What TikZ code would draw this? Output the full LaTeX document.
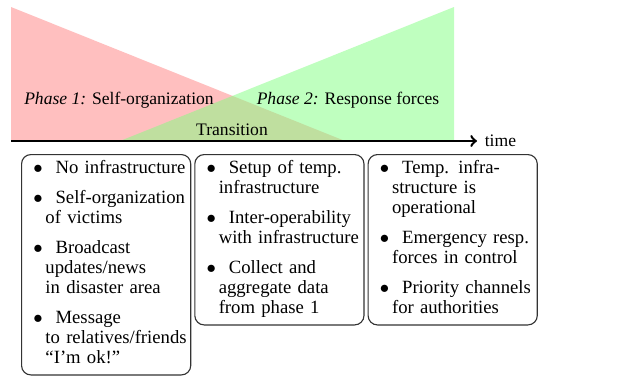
\documentclass[tikz,border=0pt]{standalone}
\usepackage{fontspec}
\setmainfont{Liberation Serif}
\usetikzlibrary{positioning}

\tikzset{
    phasebox/.style={draw=black!80, line width=0.6pt, rounded corners=5pt,
        anchor=north west, text width=90.5pt, inner xsep=0pt, inner ysep=3pt,
        font=\fontsize{10}{10.7}\selectfont},
    phaselabel/.style={inner sep=0pt, font=\fontsize{9.4}{11}\selectfont},
}
\newcommand{\boxsetup}{\raggedright\setlength{\leftskip}{12.8pt}\setlength{\parskip}{5.35pt}}
\newcommand{\bitem}[1]{\noindent\hspace*{-6.5pt}$\bullet$\hspace{6.9pt}#1\par}

\begin{document}
\begin{tikzpicture}[x=0.535pt, y=0.535pt]
    \useasboundingbox (0, 0) rectangle (629, 375);

    % draw phase triangles
    \fill[red!50, fill opacity=0.5] (11, 368) -- (11, 234) -- (345, 234) -- cycle;
    \fill[green!50, fill opacity=0.5] (454, 368) -- (454, 234) -- (120, 234) -- cycle;

    % draw phase labels
    \node[phaselabel] (phase1) at (119, 275) {\textit{Phase 1:} Self-organization};
    \node[phaselabel] (phase2) at (348, 275) {\textit{Phase 2:} Response forces};
    \node[phaselabel] (trans) at (232, 245) {Transition};

    % draw time axis
    \coordinate (t0) at (11, 234);
    \coordinate (t1) at (477, 234);
    \draw[line width=1.3pt, ->] (t0) -- (t1);
    \node[phaselabel, right=4pt of t1] (time) {time};

    % draw phase boxes
    \node[phasebox] (box1) at (21, 221) {\boxsetup
        \bitem{No infrastructure}
        \bitem{Self-organization\\ of victims}
        \bitem{Broadcast\\ updates/news\\ in disaster area}
        \bitem{Message\\ to relatives/friends\\ “I’m ok!”\strut}};
    \node[phasebox, right=1.6pt of box1.north east, anchor=north west] (box2) {\boxsetup
        \bitem{Setup of temp.\\ infrastructure}
        \bitem{Inter-operability\\ with infrastructure}
        \bitem{Collect and\\ aggregate data\\ from phase 1\strut}};
    \node[phasebox, right=1.6pt of box2.north east, anchor=north west] (box3) {\boxsetup
        \bitem{Temp. infra-\\ structure is\\ operational}
        \bitem{Emergency resp.\\ forces in control}
        \bitem{Priority channels\\ for authorities\strut}};

\end{tikzpicture}
\end{document}
